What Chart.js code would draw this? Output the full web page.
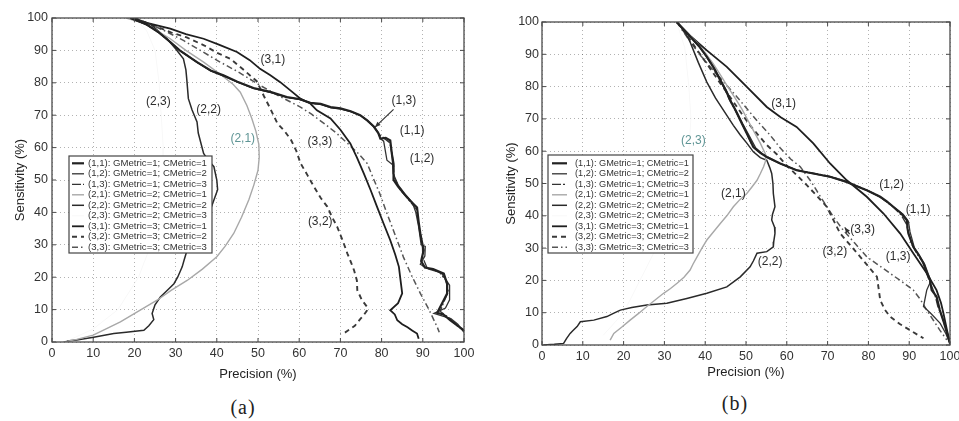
<!DOCTYPE html>
<html><head><meta charset="utf-8">
<script src="https://cdn.jsdelivr.net/npm/chart.js@4.4.1/dist/chart.umd.min.js"></script>
<style>
html,body{margin:0;padding:0;background:#fff;width:959px;height:421px;overflow:hidden;position:relative}
.w{position:absolute;top:0}
.cap{position:absolute;font-family:"Liberation Serif","DejaVu Serif",serif;font-size:20px;color:#222;transform:translate(-50%,-50%);white-space:nowrap;letter-spacing:1px}
</style></head><body>
<div class="w" style="left:0"><canvas id="ca" width="480" height="390"></canvas></div>
<div class="w" style="left:480px"><canvas id="cb" width="479" height="390"></canvas></div>
<div class="cap" style="left:243px;top:407px">(a)</div>
<div class="cap" style="left:735px;top:403px">(b)</div>
<script>
// ---------- data ----------
const SERIES_NAMES = ['(1,1): GMetric=1; CMetric=1','(1,2): GMetric=1; CMetric=2','(1,3): GMetric=1; CMetric=3',
  '(2,1): GMetric=2; CMetric=1','(2,2): GMetric=2; CMetric=2','(2,3): GMetric=2; CMetric=3',
  '(3,1): GMetric=3; CMetric=1','(3,2): GMetric=3; CMetric=2','(3,3): GMetric=3; CMetric=3'];
const AXIS_TICKS = [0,10,20,30,40,50,60,70,80,90,100];

// panel (a): [precision, sensitivity]
const A_11 = [[19,100],[23,98],[26,95.5],[28.7,92.6],[31,90],[35.2,86.4],[38.5,83.8],[41.6,82.3],[45,80.3],[48.9,78.4],[53,77.2],[57,75.6],[60,75],[62.7,73.8],[65.2,73.5],[67.6,72.5],[70,72.1],[72.5,71.2],[74.8,70],[76.5,68.4],[78.1,66.5],[79.2,64.5],[79.7,62.8],[81,63],[82.1,62.2],[82.5,58],[82.9,55],[82.9,50],[84,48],[85.4,45.8],[87,43.5],[88.6,41.5],[89,37],[89.4,33.5],[90.2,28.3],[89.6,25],[90.5,23],[92.5,22.5],[95.1,21.1],[95.9,18],[95.9,15],[94.5,11.5],[93.5,9],[95,8.5],[96.7,6.7],[98.5,5],[100,3.6]];
const A_12 = [[19,100],[23.2,97.8],[26.2,95.2],[28.9,92.3],[31.3,89.7],[35.4,86.1],[38.7,83.6],[41.8,82],[45.2,80.1],[49,78.2],[53.2,77],[57.2,75.5],[60.2,74.8],[62.9,73.7],[65.4,73.3],[67.8,72.3],[70.2,71.9],[72.7,71],[75,69.8],[76.7,68.2],[78.2,66.3],[79.3,64.3],[79.7,62.8],[80.5,62],[81.3,56.1],[82.9,54.5],[82.5,58.5],[82.8,52],[84,48.5],[85.8,45.5],[87.5,43],[88.3,40],[89,35.5],[89.6,30],[90.6,29.5],[90.5,26.5],[89.4,24],[91.5,22.5],[94.5,21.3],[96.5,17.5],[96.5,13],[95.5,10.5],[92.7,8.8],[96.8,7.2],[98.5,5.5],[100,3]];
const A_13 = [[19,100],[23,97.9],[26.1,95.3],[28.8,92.5],[31.1,89.9],[35.3,86.3],[38.6,83.7],[41.7,82.2],[45.1,80.2],[49,78.3],[53.1,77.1],[57.1,75.5],[60.1,74.9],[62.8,73.7],[65.3,73.4],[67.7,72.4],[70.1,72],[72.6,71.1],[74.9,69.9],[76.6,68.3],[78.2,66.4],[79.5,64],[80.5,63],[82,61.5],[82.8,56],[83,51],[84.5,47],[86.5,44],[88.4,41],[89.2,35],[89.9,30],[90,26],[91,23],[94,21.6],[95.6,19],[96.2,15.5],[95,12],[94.2,9.5],[96.3,7.5],[98.2,5.2],[100,3.4]];
const A_21 = [[18,100],[22,98.5],[25,96.5],[28.7,93.6],[32.5,90],[36.8,86.4],[41,82.5],[44,79.5],[45.7,77.1],[47.3,73],[48.5,69],[49.5,65],[50.2,61],[50.3,57],[50,53],[49,48.5],[47.8,44],[46,38.5],[44.1,33.5],[42,29.5],[40,26.3],[36.5,22.5],[32.8,19],[29,16],[25.5,12.9],[21,9.5],[16.6,6.2],[13,4],[10,2.1],[6,0.8],[2.8,0]];
const A_22 = [[20,100],[24,98],[27.9,93.6],[30,90.5],[31.9,87.4],[32.5,84],[32.7,81.3],[33.1,75.1],[34,71.6],[35.2,67.9],[35.5,64.5],[36.8,58.2],[38,56],[39.3,54.1],[40,50],[40.2,47],[39.3,43.8],[38.5,41],[37.7,38.7],[36,36],[34.8,33.5],[33.5,31],[32.8,28.4],[32,25],[31.6,23.2],[30.5,20],[29.6,18],[28,16],[26.3,13.9],[25,11.5],[24.3,8.8],[24.7,6.9],[23.5,5],[22.3,3.6],[18,3],[15,2.6],[10.1,1.5],[6,0.6],[3.6,0.3]];
const A_23 = [[20,100],[23,96],[25,90],[26,80],[26.5,70],[27,60],[27,50],[26,40],[24,30],[21,20],[16,10],[10,4],[4,0.5]];
const A_31 = [[19,100],[23,98.5],[28.7,96.7],[32.5,95],[36.8,93.6],[40.5,91.8],[44.9,89.5],[48,87],[50.5,84.3],[53,82.3],[55.4,80.2],[58,77.5],[60.3,75.1],[62.7,73.6],[64.3,71.5],[67.6,69],[70,65.5],[72.4,61.3],[74,57],[75.7,52],[77.3,47],[78.9,41.7],[80.5,36.5],[82.1,31.4],[83.3,27],[84.2,23.2],[84.6,19],[85,15],[84,12],[82.1,9.8],[83.2,8.5],[83.8,6.7],[85,5.5],[86.2,4.6],[87.5,3.5],[88.6,2.6],[89,1]];
const A_32 = [[20,100],[25,97.5],[29,95.5],[32.7,94],[37,91.5],[40,89.3],[43.3,87.4],[46.5,84],[49.7,80.5],[51.4,76],[53,72],[54.7,67.5],[56.5,65],[58,62.4],[59.3,59],[60.3,55.2],[62,51.5],[63.6,47.9],[65.2,44.5],[66.8,41.8],[68,38.5],[69.2,35.6],[70.5,31.5],[71.7,27.3],[72.6,24.5],[73.3,22.2],[74,19],[74.1,16],[75.2,13],[76.5,10.8],[76.5,9.8],[75.5,8],[74.9,7.2],[73.5,5],[72.5,4.1],[71.2,3],[70,2.6]];
const A_33 = [[19,100],[24,98],[27.9,95.7],[32,93],[36,90],[40.8,86.4],[45,83.5],[50.5,79.2],[55,76],[60.3,72.5],[63,70.3],[66,67.5],[69,64.5],[72,61],[74.5,58],[76.5,55.1],[78,50.5],[79.5,46],[81.3,39.7],[83.3,33],[85.3,26.2],[87.3,20.5],[89.4,15],[91.5,10],[93.5,4.6],[94,3]];

// panel (b)
const B_11 = [[33,100],[36,96],[38.5,92.5],[40.4,89.2],[42,86],[43.7,82],[45,79],[46.1,75.8],[47.5,72.5],[48.6,69.6],[50.2,65.5],[51.8,61.3],[53.5,59.5],[55.1,58.2],[58.4,56.2],[62.4,54.1],[66.5,53.1],[70.6,52.1],[74.7,50.5],[77,49.2],[79.6,47.9],[82.9,45.9],[84.5,44.5],[86.1,42.8],[88,40.8],[89.4,38.7],[89.6,36],[89.8,34.5],[91,30.4],[92.3,28],[93.5,25.3],[94.3,22.5],[95.1,20.1],[95.5,17],[96.7,15],[97.5,10.8],[98.5,7],[99.2,4],[100,0.5]];
const B_12 = [[33,100],[36.2,95.5],[38.8,92],[40.8,88.5],[42.5,85.2],[44,81.5],[45.5,78],[46.6,74.8],[48,71.5],[49.2,68.5],[50.8,64.8],[52.4,61],[54,59.2],[55.5,57.8],[58.8,55.9],[62.8,54],[66.8,53],[71,51.9],[75,50.3],[79.6,47.9],[83.2,45.5],[86.4,42.5],[88.5,40.5],[89.8,38.3],[90.2,35],[91.3,30],[93.8,25],[95.3,19.8],[94.3,17],[93.5,11.9],[95.5,9.5],[97.6,6.7],[99,3.5],[100,0.5]];
const B_13 = [[33,100],[35.8,96.2],[38.3,92.8],[40.2,89.5],[41.8,86.3],[43.5,82.3],[44.8,79.3],[45.9,76.1],[47.3,72.8],[48.4,70],[50,66],[51.6,61.6],[53.3,59.7],[55,58.4],[58,56.4],[62,54.3],[66.2,53.3],[70.3,52.3],[74.5,50.7],[79.4,48.1],[82.6,46.1],[85.8,43],[88,40.3],[89.3,37.5],[90.5,31.5],[92,28],[93.3,25.8],[94.6,21],[96.2,16],[97,12],[98,9],[99,5],[100,0.5]];
const B_21 = [[33,100],[35.5,96.8],[38,93.5],[40,90.5],[42,87],[43.8,83.5],[45.5,80],[47.3,76.5],[49,73],[50.5,69.5],[52,66],[53.5,62.5],[54.8,59],[54.8,57],[54.3,55.2],[53.5,53],[52.7,51],[51.5,49],[50.2,46.9],[48.5,45],[46.9,42.8],[45.3,40],[43.7,37.6],[42,35],[40.4,32.5],[39.2,30],[38,27.3],[37,25],[36.3,23.2],[34.8,21],[33.1,19.1],[31.5,17.5],[29.8,16],[27.8,14],[25.7,11.9],[23.6,9.7],[21.6,7.7],[19.5,5.5],[17.6,3.6],[16.7,1.5]];
const B_22 = [[33,100],[35,97],[36.3,93.8],[38.3,87.5],[40.4,81.4],[42.5,76.5],[45.3,71.1],[46.9,68],[48.6,65],[50.2,62.5],[51.8,59.8],[53.5,58],[55.1,57.2],[55.8,55],[56.3,53.1],[56.6,50],[56.7,46.9],[57.1,42.8],[56.5,40.5],[56.3,38.7],[57,36.5],[57.1,34.5],[56.8,32],[56.7,30.4],[55.1,28.9],[52.7,28.4],[51.8,26],[51,24.2],[48.6,21.1],[45.3,18],[40.4,16],[35.5,14.4],[30.6,12.9],[25.7,12.4],[22,11.6],[19.2,10.8],[17.5,9.8],[15.9,8.8],[12.7,7.7],[9.4,7.2],[8.6,5.7],[7.6,4.5],[6.9,3.6],[6,2],[5.3,0.5],[3,0.2],[0.4,0]];
const B_23 = [[33,100],[35,92],[36,80],[36.5,70],[36,60],[34,50],[31,40],[28,30],[24,20],[20,10],[15,3]];
const B_31 = [[33,100],[36.5,95.5],[40.4,91.2],[45.3,86.1],[50.2,79.9],[55.1,73.7],[58.5,70.5],[62.4,67.5],[66.5,62.4],[70.6,56.2],[74.7,51],[79.6,45.9],[83.7,40.7],[87.8,34.5],[91,28.4],[94.3,22.2],[96.7,17],[97.8,13],[98.4,9.8],[99.2,5],[100,0.5]];
const B_32 = [[33,100],[35.5,95.9],[38.5,90.5],[41.2,85.6],[44,80.5],[46.9,75.3],[49,71.5],[51,68],[53,65],[55.1,61.9],[57.6,59],[60,55.5],[62.5,52.5],[64.9,49.5],[67.5,46],[69.8,42.8],[71.5,38.5],[73.1,34.5],[75.5,31],[78,27.3],[80.2,24],[82.1,21.1],[82.5,17.5],[82.9,13.9],[84,11],[85.3,8.8],[87.7,6.5],[90.2,4.6],[92,3.2],[93.5,2.1]];
const B_33 = [[33,100],[36,94.5],[38.8,89.7],[42,85],[45.3,80.4],[47.8,76.8],[50.2,73.2],[53,69],[55.9,65],[58.4,61],[61,57.5],[63.3,55.2],[66,50.5],[68.7,45],[71.4,39.7],[73.8,35.6],[76.7,31.5],[79.6,27.3],[82.5,24.7],[85.3,22.2],[88.2,19.6],[91,17],[92.8,14],[94.3,10.8],[96,7.5],[97.5,4.6],[99.2,1.6]];

// ---------- styles / layout ----------
const FONT = '"Liberation Sans", Arial, sans-serif';
const TEAL = '#5f9595';
const STY = [
  {c:'#222', w:2.2, d:[]},
  {c:'#333', w:1.3, d:[]},
  {c:'#333', w:1.3, d:[9,2,2,2]},
  {c:'#a8a8a8', w:1.4, d:[]},
  {c:'#2a2a2a', w:1.5, d:[]},
  {c:'#f8f8f8', w:1, d:[]},
  {c:'#1e1e1e', w:1.8, d:[]},
  {c:'#3a3a3a', w:1.9, d:[5,4]},
  {c:'#555', w:1.5, d:[6,3,1.5,3]}
];
const LABELS_A = [
  {t:'(3,1)', x:53.6, y:87.2},{t:'(2,3)', x:25.8, y:74.1},{t:'(2,2)', x:38, y:71.6},
  {t:'(2,1)', x:46.3, y:62.8, c:TEAL},{t:'(3,3)', x:65, y:61.8},{t:'(1,3)', x:85.4, y:74.5},
  {t:'(1,1)', x:87.4, y:65.2},{t:'(1,2)', x:89.8, y:56.7},{t:'(3,2)', x:65.1, y:37.1}];
const LABELS_B = [
  {t:'(3,1)', x:59.2, y:74.7},{t:'(2,3)', x:37.1, y:63.4, c:TEAL},{t:'(2,1)', x:46.9, y:46.9},
  {t:'(1,2)', x:85.7, y:49.5},{t:'(1,1)', x:92.2, y:41.8},{t:'(3,3)', x:78.6, y:35.8},
  {t:'(3,2)', x:71.8, y:28.9},{t:'(1,3)', x:87.3, y:27.3},{t:'(2,2)', x:55.9, y:25.8}];
const ARROWS_A = [{x1:82.9, y1:71.8, x2:78.4, y2:66.3}];
const ARROWS_B = [{x1:75.4, y1:34.3, x2:74.2, y2:36.4}];

function decorPlugin(cfg){
  return {
    id:'decor',
    afterDatasetsDraw(chart){
      const ctx = chart.ctx, a = chart.chartArea, xs = chart.scales.x, ys = chart.scales.y;
      ctx.save();
      const line = (x1,y1,x2,y2)=>{ctx.beginPath();ctx.moveTo(x1,y1);ctx.lineTo(x2,y2);ctx.stroke();};
      // frame + inward ticks
      ctx.strokeStyle = '#4a4a4a'; ctx.lineWidth = 1.3; ctx.setLineDash([]);
      ctx.strokeRect(a.left, a.top, a.right-a.left, a.bottom-a.top);
      ctx.lineWidth = 1;
      AXIS_TICKS.forEach(v=>{
        const px = xs.getPixelForValue(v), py = ys.getPixelForValue(v);
        line(px,a.bottom,px,a.bottom-4); line(px,a.top,px,a.top+4);
        line(a.left,py,a.left+4,py); line(a.right,py,a.right-4,py);
      });
      // curve labels
      ctx.font = '12px ' + FONT; ctx.textAlign='center'; ctx.textBaseline='middle';
      cfg.labels.forEach(l=>{ ctx.fillStyle = l.c || '#2e2e2e'; ctx.fillText(l.t, xs.getPixelForValue(l.x), ys.getPixelForValue(l.y)); });
      // arrows
      ctx.strokeStyle = '#333'; ctx.fillStyle='#333'; ctx.lineWidth = 1.2;
      cfg.arrows.forEach(r=>{
        const x1=xs.getPixelForValue(r.x1), y1=ys.getPixelForValue(r.y1), x2=xs.getPixelForValue(r.x2), y2=ys.getPixelForValue(r.y2);
        line(x1,y1,x2,y2);
        const ang=Math.atan2(y2-y1,x2-x1), L=6;
        ctx.beginPath(); ctx.moveTo(x2,y2);
        ctx.lineTo(x2-L*Math.cos(ang-0.4), y2-L*Math.sin(ang-0.4));
        ctx.lineTo(x2-L*Math.cos(ang+0.4), y2-L*Math.sin(ang+0.4));
        ctx.closePath(); ctx.fill();
      });
      // legend box
      const g = cfg.legend;
      const bx = a.left + g.dx, by = a.top + g.dy;
      ctx.fillStyle='#fff'; ctx.fillRect(bx,by,g.w,g.h);
      ctx.strokeStyle='#444'; ctx.lineWidth=1.2; ctx.strokeRect(bx,by,g.w,g.h);
      ctx.font = g.fs + 'px ' + FONT; ctx.textAlign='left'; ctx.textBaseline='middle';
      chart.data.datasets.forEach((ds,i)=>{
        const yy = by + g.first + i*g.step;
        ctx.strokeStyle = ds.borderColor; ctx.lineWidth = ds.borderWidth; ctx.setLineDash(ds.borderDash||[]);
        line(bx+g.s1, yy, bx+g.s2, yy);
        ctx.setLineDash([]);
        ctx.fillStyle = '#333';
        ctx.fillText(ds.label, bx+g.tx, yy);
      });
      ctx.restore();
    }
  };
}

function makeChart(id, series, geo, cfg){
  const datasets = series.map((s,i)=>({
    label: SERIES_NAMES[i],
    data: s.map(p=>({x:p[0], y:p[1]})),
    borderColor: STY[i].c, borderWidth: STY[i].w, borderDash: STY[i].d,
    pointRadius:0, fill:false, tension:0
  }));
  const zeroPad = s => { s.paddingLeft=0; s.paddingRight=0; s.paddingTop=0; s.paddingBottom=0; };
  return new Chart(document.getElementById(id), {
    type:'line',
    data:{datasets},
    options:{
      responsive:false, animation:false, events:[],
      layout:{autoPadding:false, padding:{left:0, top:geo.padTop, right:geo.padRight, bottom:0}},
      plugins:{legend:{display:false}, tooltip:{enabled:false}},
      scales:{
        x:{type:'linear', min:0, max:100,
          ticks:{stepSize:10, padding:geo.xTickPad, color:'#333', font:{family:FONT, size:12.5}, maxRotation:0, autoSkip:false},
          grid:{color:'rgba(0,0,0,0.3)', lineWidth:1, drawTicks:false},
          border:{display:false, dash:[1,3]},
          title:{display:true, text:'Precision (%)', color:'#222', font:{family:FONT, size:13}, padding:{top:0, bottom:geo.xTitlePad}},
          afterFit(s){ s.height = geo.xAxisH; zeroPad(s); }
        },
        y:{type:'linear', min:0, max:100,
          ticks:{stepSize:10, padding:geo.yTickPad, color:'#333', font:{family:FONT, size:12.5}, autoSkip:false},
          grid:{color:'rgba(0,0,0,0.3)', lineWidth:1, drawTicks:false},
          border:{display:false, dash:[1,3]},
          title:{display:true, text:'Sensitivity (%)', color:'#222', font:{family:FONT, size:13}, padding:{top:geo.yTitlePad, bottom:0}},
          afterFit(s){ s.width = geo.yAxisW; zeroPad(s); }
        }
      }
    },
    plugins:[decorPlugin(cfg)]
  });
}

makeChart('ca', [A_11,A_12,A_13,A_21,A_22,A_23,A_31,A_32,A_33],
  {padTop:18, padRight:16, yAxisW:52, xAxisH:48, xTickPad:4, yTickPad:4, xTitlePad:8, yTitlePad:13},
  {labels:LABELS_A, arrows:ARROWS_A, legend:{dx:17, dy:138, w:143, h:97, first:7.3, step:10.5, s1:3, s2:15, tx:19, fs:9.6}});
makeChart('cb', [B_11,B_12,B_13,B_21,B_22,B_23,B_31,B_32,B_33],
  {padTop:22, padRight:9, yAxisW:62, xAxisH:45, xTickPad:4, yTickPad:3, xTitlePad:10, yTitlePad:24},
  {labels:LABELS_B, arrows:ARROWS_B, legend:{dx:6, dy:133, w:145, h:98, first:8.3, step:10.5, s1:4, s2:19, tx:27, fs:9.2}});
</script>
</body></html>
